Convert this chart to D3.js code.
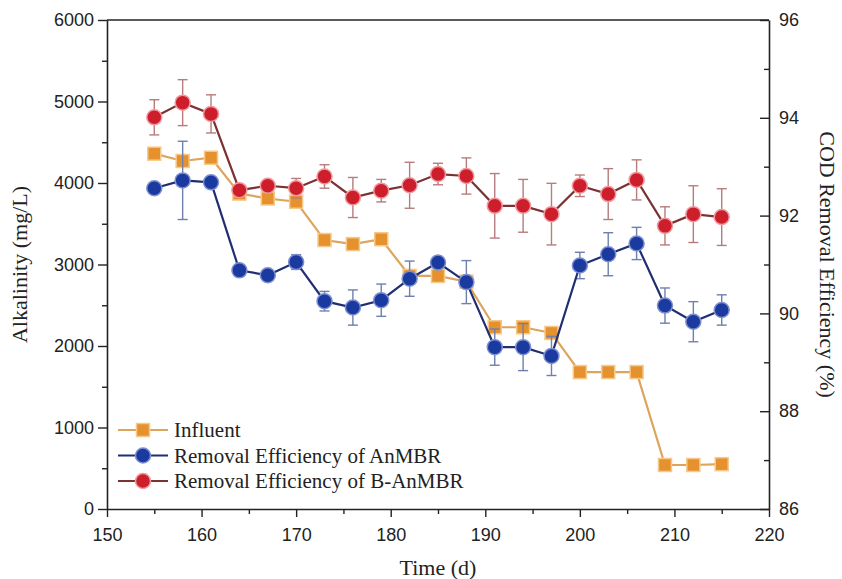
<!DOCTYPE html>
<html lang="en">
<head>
  <meta charset="utf-8">
  <title>Alkalinity and COD removal efficiency</title>
  <script type="text/javascript" src="https://cdnjs.cloudflare.com/ajax/libs/d3/7.8.5/d3.min.js"></script>
  <style>
    body { margin: 0; background: #fff; }
    svg { display: block; }
    .tick text { font-family: "Liberation Sans", Arial, sans-serif; font-size: 18px; fill: #222; }
    .title { font-family: "Liberation Serif", "Times New Roman", serif; font-size: 22px; fill: #222; }
    .legend text { font-family: "Liberation Serif", "Times New Roman", serif; font-size: 21px; fill: #222; }
  </style>
</head>
<body>
  <script type="text/javascript">
    var width = 842;
    var height = 579;

    // data
    var days = [155, 158, 161, 164, 167, 170, 173, 176, 179, 182, 185, 188, 191, 194, 197, 200, 203, 206, 209, 212, 215];
    var influent = [4360, 4270, 4310, 3870, 3810, 3770, 3300, 3250, 3310, 2860, 2860, 2790, 2230, 2230, 2160, 1680, 1680, 1680, 540, 540, 550];
    var anmbr = [92.56, 92.72, 92.68, 90.88, 90.78, 91.05, 90.25, 90.12, 90.27, 90.71, 91.04, 90.64, 89.31, 89.31, 89.13, 90.98, 91.21, 91.43, 90.16, 89.83, 90.07];
    var anmbrErr = [0.02, 0.80, 0.02, 0.05, 0.1, 0.15, 0.2, 0.36, 0.33, 0.36, 0.05, 0.44, 0.37, 0.48, 0.40, 0.27, 0.44, 0.33, 0.36, 0.41, 0.31];
    var banmbr = [94.01, 94.31, 94.08, 92.52, 92.61, 92.56, 92.80, 92.37, 92.51, 92.62, 92.85, 92.81, 92.20, 92.20, 92.03, 92.61, 92.44, 92.73, 91.79, 92.03, 91.97];
    var banmbrErr = [0.36, 0.47, 0.39, 0.08, 0.08, 0.2, 0.24, 0.41, 0.23, 0.47, 0.22, 0.37, 0.66, 0.54, 0.63, 0.22, 0.52, 0.41, 0.39, 0.58, 0.58];
    var legendLabels = ["Influent", "Removal Efficiency of AnMBR", "Removal Efficiency of B-AnMBR"];

    var margin = {top: 20, right: 73, bottom: 70, left: 107};
    var x0 = margin.left, x1 = width - margin.right;
    var y0 = height - margin.bottom, y1 = margin.top;

    var x = d3.scaleLinear().domain([150, 220]).range([x0, x1]);
    var yL = d3.scaleLinear().domain([0, 6000]).range([y0, y1]);
    var yR = d3.scaleLinear().domain([86, 96]).range([y0, y1]);

    var svg = d3.select("body").append("svg")
      .attr("width", width)
      .attr("height", height);

    var axisColor = "#222";

    // minor ticks
    svg.append("g").attr("transform", "translate(0," + y0 + ")")
      .call(d3.axisBottom(x).tickValues(d3.range(155, 220, 10)).tickSize(5).tickFormat(""))
      .call(function (g) { g.select(".domain").remove(); });
    svg.append("g").attr("transform", "translate(" + x0 + ",0)")
      .call(d3.axisLeft(yL).tickValues(d3.range(500, 6000, 1000)).tickSize(5).tickFormat(""))
      .call(function (g) { g.select(".domain").remove(); });
    svg.append("g").attr("transform", "translate(" + x1 + ",0)")
      .call(d3.axisLeft(yR).tickValues(d3.range(87, 96, 2)).tickSize(5).tickFormat(""))
      .call(function (g) { g.select(".domain").remove(); });

    // major axes
    var gx = svg.append("g").attr("transform", "translate(0," + y0 + ")")
      .call(d3.axisBottom(x).tickValues(d3.range(150, 221, 10)).tickSize(8).tickPadding(8).tickSizeOuter(0).tickFormat(d3.format("d")));
    var gyl = svg.append("g").attr("transform", "translate(" + x0 + ",0)")
      .call(d3.axisLeft(yL).tickValues(d3.range(0, 6001, 1000)).tickSize(9).tickPadding(4).tickSizeOuter(0).tickFormat(d3.format("d")));
    var gyr = svg.append("g").attr("transform", "translate(" + x1 + ",0)")
      .call(d3.axisRight(yR).tickValues(d3.range(86, 97, 2)).tickSizeInner(-9).tickPadding(10).tickSizeOuter(0).tickFormat(d3.format("d")));

    gyr.selectAll(".tick text").attr("x", 10);
    gx.selectAll(".tick text").attr("dy", "0.9em");

    svg.selectAll(".domain").attr("stroke", axisColor).attr("stroke-width", 1.6);
    svg.selectAll(".tick line").attr("stroke", axisColor).attr("stroke-width", 1.4);

    // top frame
    svg.append("line")
      .attr("x1", x0).attr("x2", x1).attr("y1", y1).attr("y2", y1)
      .attr("stroke", axisColor).attr("stroke-width", 1.6);

    // axis titles
    svg.append("text").attr("class", "title")
      .attr("transform", "translate(27," + ((y0 + y1) / 2) + ") rotate(-90)")
      .attr("text-anchor", "middle")
      .text("Alkalinity (mg/L)");
    svg.append("text").attr("class", "title")
      .attr("transform", "translate(820," + ((y0 + y1) / 2) + ") rotate(90)")
      .attr("text-anchor", "middle")
      .text("COD Removal Efficiency (%)");
    svg.append("text").attr("class", "title")
      .attr("x", (x0 + x1) / 2).attr("y", 575)
      .attr("text-anchor", "middle")
      .text("Time (d)");

    var styles = [
      {line: "#dca45c", fill: "#e5922e", halo: "#f6c98a", bar: null},
      {line: "#1f2f72", fill: "#1b3aa0", halo: "#7d8fd0", bar: "#6f7fae"},
      {line: "#7a3232", fill: "#cc1f2b", halo: "#f09aa0", bar: "#b77c7c"}
    ];

    function drawErr(vals, errs, yScale, color) {
      var g = svg.append("g");
      days.forEach(function (d, i) {
        var cx = x(d), top = yScale(vals[i] + errs[i]), bot = yScale(vals[i] - errs[i]);
        g.append("line").attr("x1", cx).attr("x2", cx).attr("y1", top).attr("y2", bot)
          .attr("stroke", color).attr("stroke-width", 1.4);
        [top, bot].forEach(function (yy) {
          g.append("line").attr("x1", cx - 5).attr("x2", cx + 5).attr("y1", yy).attr("y2", yy)
            .attr("stroke", color).attr("stroke-width", 1.4);
        });
      });
    }

    function drawSeries(vals, yScale, st, shape) {
      var line = d3.line().x(function (d, i) { return x(days[i]); }).y(function (d) { return yScale(d); });
      svg.append("path").datum(vals)
        .attr("fill", "none").attr("stroke", st.line).attr("stroke-width", 2.2)
        .attr("d", line);
      var g = svg.append("g");
      if (shape === "square") {
        g.selectAll("rect").data(vals).enter().append("rect")
          .attr("x", function (d, i) { return x(days[i]) - 6.5; })
          .attr("y", function (d) { return yScale(d) - 6.5; })
          .attr("width", 13).attr("height", 13)
          .attr("fill", st.fill).attr("stroke", st.halo).attr("stroke-width", 1.5);
      } else {
        g.selectAll("circle").data(vals).enter().append("circle")
          .attr("cx", function (d, i) { return x(days[i]); })
          .attr("cy", function (d) { return yScale(d); })
          .attr("r", 7.5)
          .attr("fill", st.fill).attr("stroke", st.halo).attr("stroke-width", 1.5);
      }
    }

    drawSeries(influent, yL, styles[0], "square");
    drawErr(anmbr, anmbrErr, yR, styles[1].bar);
    drawSeries(anmbr, yR, styles[1], "circle");
    drawErr(banmbr, banmbrErr, yR, styles[2].bar);
    drawSeries(banmbr, yR, styles[2], "circle");

    // legend
    var legend = svg.append("g").attr("class", "legend");
    legendLabels.forEach(function (lab, i) {
      var ly = 430 + i * 25.5, st = styles[i];
      legend.append("line").attr("x1", 118).attr("x2", 168).attr("y1", ly).attr("y2", ly)
        .attr("stroke", st.line).attr("stroke-width", 2.2);
      if (i === 0) {
        legend.append("rect").attr("x", 143 - 6.5).attr("y", ly - 6.5).attr("width", 13).attr("height", 13)
          .attr("fill", st.fill).attr("stroke", st.halo).attr("stroke-width", 1.5);
      } else {
        legend.append("circle").attr("cx", 143).attr("cy", ly).attr("r", 7.5)
          .attr("fill", st.fill).attr("stroke", st.halo).attr("stroke-width", 1.5);
      }
      legend.append("text").attr("x", 174).attr("y", ly).attr("dy", "0.35em").text(lab);
    });
  </script>
</body>
</html>
